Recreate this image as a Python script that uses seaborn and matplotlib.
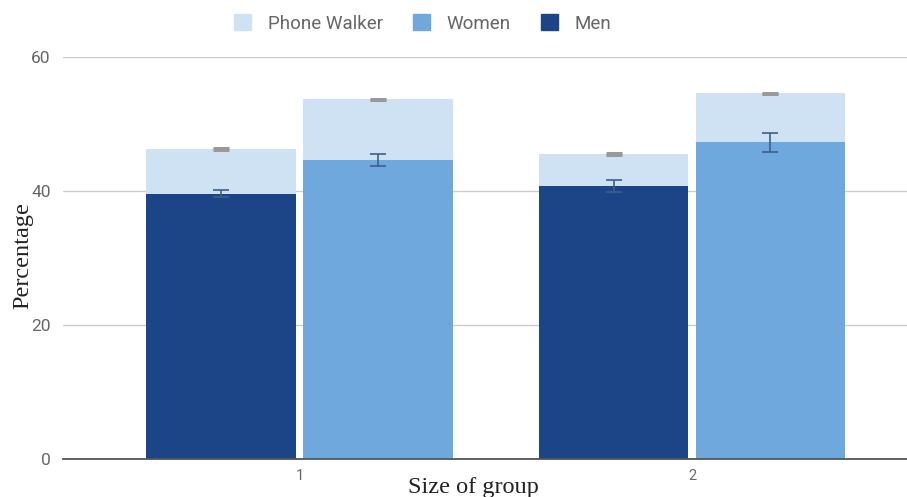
import matplotlib
matplotlib.use('Agg')
import matplotlib.pyplot as plt
from matplotlib.patches import Patch
import numpy as np
import pandas as pd
import seaborn as sns

# values
groups = ['1', '2']
men = [39.6, 40.8]
men_err = [0.5, 0.9]
women = [44.7, 47.3]
women_err = [0.9, 1.4]
phone_men = [46.3, 45.5]
phone_women = [53.7, 54.6]
phone_err = [0.12, 0.12]

c_phone = '#cfe2f3'
c_women = '#6fa8dc'
c_men = '#1c4587'

df = pd.DataFrame({
    'group': groups * 2,
    'gender': ['Men'] * 2 + ['Women'] * 2,
    'value': men + women,
    'err': men_err + women_err,
    'phone': phone_men + phone_women,
    'phone_err': phone_err * 2,
})

sns.set_style('white')
plt.rcParams['font.family'] = ['Roboto', 'DejaVu Sans']

fig = plt.figure(figsize=(9.07, 4.97), dpi=100)
ax = fig.add_axes([0.0695, 0.0765, 0.9305, 0.8085])

kw = dict(x='group', hue='gender', hue_order=['Men', 'Women'], order=groups,
          width=0.80, gap=0.045, errorbar=None, legend=False, ax=ax,
          saturation=1, linewidth=0)
sns.barplot(data=df, y='phone', palette=[c_phone, c_phone], **kw)
sns.barplot(data=df, y='value', palette=[c_men, c_women], **kw)

# error bars on top of the seaborn bars
front = ax.containers[2:]
for cont, gender in zip(front, ['Men', 'Women']):
    sub = df[df.gender == gender].set_index('group').loc[groups]
    xs = [p.get_x() + p.get_width() / 2 for p in cont.patches]
    ax.errorbar(xs, sub['value'], yerr=sub['err'], fmt='none',
                ecolor='#3e5f86', elinewidth=1.2, capsize=6, capthick=1.2, zorder=5)
    ax.errorbar(xs, sub['phone'], yerr=sub['phone_err'], fmt='none',
                ecolor='#999999', elinewidth=1.5, capsize=6, capthick=2.2, zorder=5)

ax.set_ylim(0, 60)
ax.set_xlim(-0.603, 1.548)
ax.set_yticks([0, 20, 40, 60])
ax.yaxis.grid(True, color='#cccccc', linewidth=1)
ax.set_axisbelow(True)
for s in ['top', 'right', 'left']:
    ax.spines[s].set_visible(False)
ax.spines['bottom'].set_color('#555555')
ax.spines['bottom'].set_linewidth(1.3)
ax.tick_params(axis='y', length=0, labelsize=12.5, labelcolor='#666666', pad=9)
ax.tick_params(axis='x', length=0, labelsize=10.5, labelcolor='#666666', pad=7)

ax.set_xlabel('Size of group', family=['Liberation Serif', 'DejaVu Serif'],
              fontsize=17.5, color='#222222')
ax.set_ylabel('Percentage', family=['Liberation Serif', 'DejaVu Serif'],
              fontsize=17.5, color='#222222')
ax.xaxis.set_label_coords(0.486, -0.045)
ax.yaxis.set_label_coords(-0.035, 0.505)

handles = [Patch(color=c_phone), Patch(color=c_women), Patch(color=c_men)]
fig.legend(handles, ['Phone Walker', 'Women', 'Men'], loc='upper center',
           bbox_to_anchor=(0.466, 1.005), ncol=3, frameon=False, fontsize=13.5,
           labelcolor='#666666', handlelength=0.9, handleheight=0.9,
           columnspacing=1.6, handletextpad=0.9)

fig.savefig('out.png', dpi=100)
